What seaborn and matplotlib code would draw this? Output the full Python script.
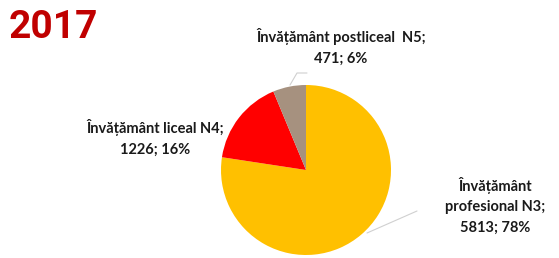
#!/usr/bin/env python3
"""Pie chart of enrolment by education level, 2017."""

import matplotlib
matplotlib.use("Agg")
import matplotlib.pyplot as plt
import seaborn as sns

YEAR = "2017"
categories = ["Învățământ\nprofesional N3", "Învățământ liceal N4", "Învățământ postliceal  N5"]
counts = [5813, 1226, 471]
percent_labels = ["78%", "16%", "6%"]
colors = ["#FFC000", "#FF0000", "#A6917F"]

sns.set_theme(style="white")
plt.rcParams["font.family"] = ["Lato", "DejaVu Sans"]

W, H = 559, 258
fig = plt.figure(figsize=(W / 100, H / 100), dpi=100)
ax = fig.add_axes([0, 0, 1, 1])

cx, cy, r = 306, H - 170, 85
wedges, _ = ax.pie(
    counts,
    colors=colors,
    startangle=90,
    counterclock=False,
    center=(cx, cy),
    radius=r,
    wedgeprops=dict(linewidth=0),
    frame=True,
)
ax.set_xlim(0, W)
ax.set_ylim(0, H)
ax.set_aspect("equal")
ax.axis("off")

# leader lines
ax.plot([290, 297, 307], [H - 85, H - 73, H - 73], color="#D0D0D0", lw=0.8)
ax.plot([367, 417], [H - 233, H - 211], color="#D0D0D0", lw=0.8)

lab_kw = dict(fontsize=10.5, fontweight="bold", color="#1A1A1A", ha="center", va="center",
              linespacing=1.6)
pos = [(495, H - 206), (155, H - 138), (341, H - 47)]
for name, n, p, (x, y) in zip(categories, counts, percent_labels, pos):
    ax.text(x, y, f"{name};\n{n}; {p}", **lab_kw)

ax.text(9, H - 28, YEAR, fontsize=28, fontweight="bold", color="#C00000",
        ha="left", va="center", family=["Roboto", "DejaVu Sans"])

fig.savefig("out.png", dpi=100)
plt.close(fig)
